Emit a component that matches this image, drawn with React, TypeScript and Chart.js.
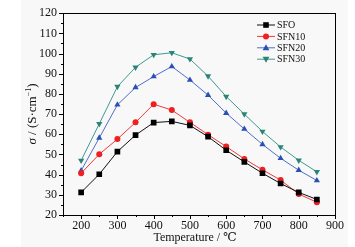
import React, { useEffect, useRef } from "react";
import { Chart, registerables } from "chart.js";

Chart.register(...registerables);

const temperatures = [200, 250, 300, 350, 400, 450, 500, 550, 600, 650, 700, 750, 800, 850];
const sfo = [31.2, 40.2, 51.4, 59.6, 65.8, 66.4, 64.4, 58.8, 52.1, 46.3, 40.7, 35.6, 31.2, 27.7];
const sfn10 = [40.7, 50.1, 57.6, 65.9, 74.9, 72.0, 65.9, 59.8, 53.9, 47.8, 42.4, 37.3, 30.4, 26.3];
const sfn20 = [42.0, 58.2, 74.6, 83.2, 88.6, 93.6, 86.9, 79.4, 70.5, 62.6, 55.0, 48.1, 42.2, 37.1];
const sfn30 = [47.0, 65.2, 83.6, 93.2, 99.4, 100.4, 97.3, 88.8, 78.7, 70.0, 61.4, 53.7, 47.1, 41.4];
const seriesNames = ["SFO", "SFN10", "SFN20", "SFN30"];
const xTicks = [200, 300, 400, 500, 600, 700, 800, 900];
const yTicks = [20, 30, 40, 50, 60, 70, 80, 90, 100, 110, 120];

const lineColors = ["#111111", "#f03a3a", "#5070c8", "#3f9a90"];
const markColors = ["#000000", "#ee2020", "#2a4fb5", "#2a8478"];
const styles = ["rect", "circle", "triangle", "triangleDown"];

const FONT = "'Liberation Serif', 'DejaVu Serif', serif";

function drawMarker(ctx: CanvasRenderingContext2D, style: string, x: number, y: number, color: string) {
  ctx.save();
  ctx.fillStyle = color;
  ctx.beginPath();
  if (style === "rect") {
    ctx.rect(x - 2.8, y - 2.8, 5.6, 5.6);
  } else if (style === "circle") {
    ctx.arc(x, y, 3, 0, Math.PI * 2);
  } else if (style === "triangle") {
    ctx.moveTo(x, y - 3.6);
    ctx.lineTo(x + 3.4, y + 2.4);
    ctx.lineTo(x - 3.4, y + 2.4);
    ctx.closePath();
  } else {
    ctx.moveTo(x, y + 3.6);
    ctx.lineTo(x + 3.4, y - 2.4);
    ctx.lineTo(x - 3.4, y - 2.4);
    ctx.closePath();
  }
  ctx.fill();
  ctx.restore();
}

const decorPlugin = {
  id: "decor",
  beforeDraw(chart: any) {
    const ctx = chart.ctx;
    ctx.save();
    ctx.fillStyle = "#ffffff";
    ctx.fillRect(0, 0, chart.width, chart.height);
    ctx.fillStyle = "#f8f8f8";
    ctx.fillRect(21, 0, 327, chart.height);
    ctx.restore();
  },
  afterDatasetsDraw(chart: any) {
    const ctx = chart.ctx;
    const ca = chart.chartArea;
    const xs = chart.scales.x;
    const ys = chart.scales.y;
    ctx.save();
    ctx.strokeStyle = "#000";
    ctx.lineWidth = 1;
    ctx.strokeRect(Math.round(ca.left) + 0.5, Math.round(ca.top) + 0.5, Math.round(ca.right - ca.left), Math.round(ca.bottom - ca.top));
    ctx.beginPath();
    for (let v = 25; v < 120; v += 10) {
      const p = Math.round(ys.getPixelForValue(v)) + 0.5;
      ctx.moveTo(ca.left, p);
      ctx.lineTo(ca.left - 2, p);
    }
    for (const v of yTicks) {
      const p = Math.round(ys.getPixelForValue(v)) + 0.5;
      ctx.moveTo(ca.left, p);
      ctx.lineTo(ca.left - 4, p);
    }
    for (let v = 150; v < 900; v += 100) {
      const p = Math.round(xs.getPixelForValue(v)) + 0.5;
      ctx.moveTo(p, ca.bottom);
      ctx.lineTo(p, ca.bottom + 2);
    }
    for (const v of xTicks) {
      const p = Math.round(xs.getPixelForValue(v)) + 0.5;
      ctx.moveTo(p, ca.bottom);
      ctx.lineTo(p, ca.bottom + 4);
    }
    ctx.stroke();

    const lx0 = 257, lx1 = 275, tx = 277;
    seriesNames.forEach((name, i) => {
      const y = 25 + i * 11.4;
      ctx.strokeStyle = lineColors[i];
      ctx.lineWidth = 1;
      ctx.beginPath();
      ctx.moveTo(lx0, y);
      ctx.lineTo(lx1, y);
      ctx.stroke();
      drawMarker(ctx, styles[i], (lx0 + lx1) / 2, y, markColors[i]);
      ctx.fillStyle = "#111";
      ctx.font = `10px ${FONT}`;
      ctx.textAlign = "left";
      ctx.textBaseline = "middle";
      ctx.fillText(name, tx, y + 0.5);
    });

    ctx.fillStyle = "#111";
    ctx.font = `12px ${FONT}`;
    ctx.textAlign = "center";
    ctx.textBaseline = "middle";
    ctx.fillText("Temperature / \u2103", 195, 238);

    ctx.translate(33, 114);
    ctx.rotate(-Math.PI / 2);
    ctx.textAlign = "left";
    ctx.textBaseline = "middle";
    const parts: Array<[string, string, number]> = [
      ["\u03c3", `italic 13px ${FONT}`, 0],
      [" / (S\u00b7cm", `13px ${FONT}`, 0],
      ["\u22121", `8px ${FONT}`, -4],
      [")", `13px ${FONT}`, 0],
    ];
    let total = 0;
    for (const [t, f] of parts) {
      ctx.font = f;
      total += ctx.measureText(t).width;
    }
    let cx = -total / 2;
    for (const [t, f, dy] of parts) {
      ctx.font = f;
      ctx.fillText(t, cx, dy);
      cx += ctx.measureText(t).width;
    }
    ctx.restore();
  },
};

export default function App() {
  const ref = useRef<HTMLCanvasElement | null>(null);
  useEffect(() => {
    document.body.style.margin = "0";
    const canvas = ref.current;
    if (!canvas) return;
    const allSeries = [sfo, sfn10, sfn20, sfn30];
    const datasets = allSeries.map((vals, i) => ({
      label: seriesNames[i],
      data: temperatures.map((t, j) => ({ x: t, y: vals[j] })),
      borderColor: lineColors[i],
      backgroundColor: markColors[i],
      pointBackgroundColor: markColors[i],
      pointBorderColor: markColors[i],
      pointBorderWidth: 0,
      borderWidth: 1,
      pointStyle: styles[i] === "triangleDown" ? "triangle" : styles[i],
      rotation: styles[i] === "triangleDown" ? 180 : 0,
      pointRadius: styles[i] === "rect" ? 4 : styles[i] === "circle" ? 3 : 3.6,
      tension: 0,
    }));
    const chart = new Chart(canvas, {
      type: "line",
      data: { datasets } as any,
      options: {
        animation: false,
        responsive: false,
        layout: { padding: { left: 0, right: 20, top: 12, bottom: 0 } },
        plugins: { legend: { display: false }, tooltip: { enabled: false } },
        scales: {
          x: {
            type: "linear",
            min: 150,
            max: 900,
            afterBuildTicks: (s: any) => {
              s.ticks = xTicks.map((v) => ({ value: v }));
            },
            afterFit: (s: any) => {
              s.height = 32;
            },
            grid: { display: false, drawTicks: false },
            border: { display: false },
            ticks: { color: "#111", font: { family: FONT, size: 12 }, padding: 4, maxRotation: 0, autoSkip: false },
          },
          y: {
            type: "linear",
            min: 20,
            max: 120,
            afterBuildTicks: (s: any) => {
              s.ticks = yTicks.map((v) => ({ value: v }));
            },
            afterFit: (s: any) => {
              s.width = 63;
            },
            grid: { display: false, drawTicks: false },
            border: { display: false },
            ticks: { color: "#111", font: { family: FONT, size: 12 }, padding: 6, autoSkip: false },
          },
        },
      },
      plugins: [decorPlugin],
    } as any);
    return () => chart.destroy();
  }, []);
  return (
    <div style={{ width: 355, height: 247 }}>
      <canvas ref={ref} width={355} height={247} style={{ display: "block" }} />
    </div>
  );
}
